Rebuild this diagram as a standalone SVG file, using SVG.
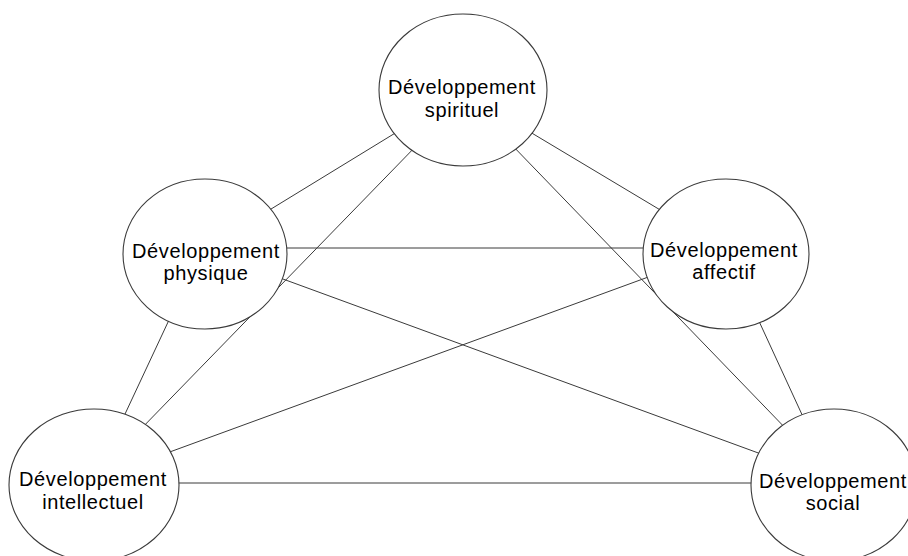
<svg xmlns="http://www.w3.org/2000/svg" width="908" height="556" viewBox="0 0 908 556">
<style>
.bg{fill:#ffffff}
.edge{stroke:#3a3a3a;stroke-width:1;fill:none}
.node ellipse{fill:#ffffff;stroke:#3a3a3a;stroke-width:1.1}
.node text{font-family:"Liberation Sans",Arial,sans-serif;font-size:20px;fill:#000;text-anchor:middle;letter-spacing:0.6px}
</style>
<rect class="bg" x="0" y="0" width="908" height="556"/>
<g id="connectors">
<line class="edge" x1="410" y1="124" x2="258" y2="217"/>
<line class="edge" x1="515" y1="123" x2="672" y2="217"/>
<line class="edge" x1="420" y1="142" x2="137" y2="433"/>
<line class="edge" x1="509" y1="142" x2="792" y2="435"/>
<line class="edge" x1="270" y1="248" x2="660" y2="248"/>
<line class="edge" x1="176" y1="305" x2="118" y2="429"/>
<line class="edge" x1="272" y1="275" x2="772" y2="458"/>
<line class="edge" x1="662" y1="272" x2="156" y2="457"/>
<line class="edge" x1="752" y1="306" x2="810" y2="432"/>
<line class="edge" x1="160" y1="483" x2="770" y2="483"/>
</g>
<g id="spirituel" class="node">
<ellipse cx="463" cy="90" rx="84" ry="76"/>
<text x="462" y="94">Développement</text>
<text x="462" y="117">spirituel</text>
</g>
<g id="physique" class="node">
<ellipse cx="205" cy="254" rx="82" ry="75"/>
<text x="206" y="258">Développement</text>
<text x="206" y="280">physique</text>
</g>
<g id="affectif" class="node">
<ellipse cx="726" cy="254" rx="83" ry="75"/>
<text x="724" y="257">Développement</text>
<text x="724" y="279">affectif</text>
</g>
<g id="intellectuel" class="node">
<ellipse cx="94" cy="485" rx="85" ry="76"/>
<text x="93" y="486">Développement</text>
<text x="93" y="509">intellectuel</text>
</g>
<g id="social" class="node">
<ellipse cx="834" cy="485" rx="83" ry="76"/>
<text x="833" y="488">Développement</text>
<text x="833" y="510">social</text>
</g>
</svg>
